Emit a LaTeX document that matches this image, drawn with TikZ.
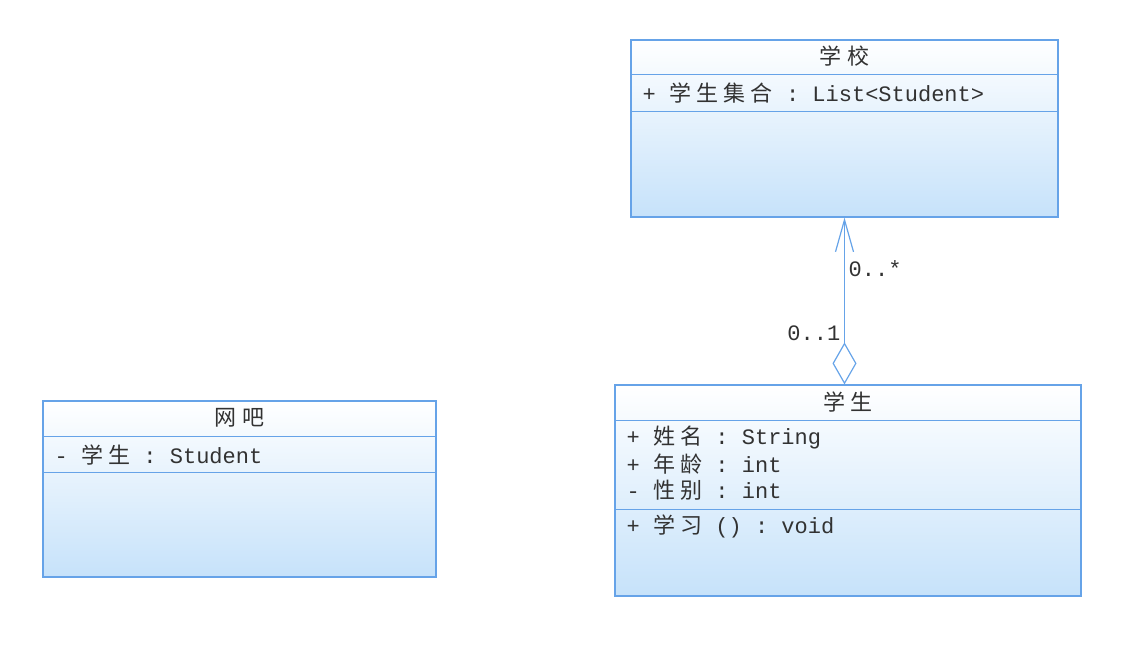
\documentclass[tikz,border=0pt]{standalone}
\usepackage{fontspec}
\setmonofont{Liberation Mono}
\newfontfamily\cjk{Noto Sans CJK SC}[LetterSpace=24]
\usetikzlibrary{arrows.meta}

\definecolor{umlline}{RGB}{102,163,232}
\definecolor{umlfill}{RGB}{198,226,250}
\definecolor{umltext}{RGB}{50,50,50}

\tikzset{
  umlclass/.style={draw=umlline, line width=1.2pt, top color=white, bottom color=umlfill, inner sep=0pt},
  umldiv/.style={draw=umlline, line width=1.2pt},
  classname/.style={inner sep=0pt, text=umltext},
  member/.style={anchor=west, inner sep=0pt, text=umltext},
  mult/.style={inner sep=0pt, text=umltext},
  aggr/.style={draw=umlline, line width=1.2pt, {Diamond[open,length=42pt,width=24pt]}-{Straight Barb[length=32pt,width=18pt]}}
}

\begin{document}
\begin{tikzpicture}[x=1pt,y=-1pt,font=\fontsize{22}{26}\selectfont\ttfamily]
\useasboundingbox (0,0) rectangle (1144,662);

% classes
\node[umlclass, minimum width=427pt, minimum height=177pt] (school) at (844.5,128.5) {};
\node[umlclass, minimum width=466pt, minimum height=211pt] (student) at (848,490.5) {};
\node[umlclass, minimum width=393pt, minimum height=176pt] (netbar) at (239.5,489) {};

% compartments
\draw[umldiv] ([yshift=-35pt]school.north west) -- ([yshift=-35pt]school.north east);
\draw[umldiv] ([yshift=-72pt]school.north west) -- ([yshift=-72pt]school.north east);
\draw[umldiv] ([yshift=-36pt]student.north west) -- ([yshift=-36pt]student.north east);
\draw[umldiv] ([yshift=-125pt]student.north west) -- ([yshift=-125pt]student.north east);
\draw[umldiv] ([yshift=-36pt]netbar.north west) -- ([yshift=-36pt]netbar.north east);
\draw[umldiv] ([yshift=-72pt]netbar.north west) -- ([yshift=-72pt]netbar.north east);

% names
\node[classname] (schoolname) at ([yshift=-17pt]school.north) {\cjk 学校};
\node[classname] (studentname) at ([yshift=-18pt]student.north) {\cjk 学生};
\node[classname] (netbarname) at ([yshift=-17pt]netbar.north) {\cjk 网吧};

% members
\node[member] (schoolstu) at ([xshift=12pt,yshift=-54pt]school.north west) {+ {\cjk 学生集合} : List<Student>};
\node[member] (stuname) at ([xshift=12pt,yshift=-53pt]student.north west) {+ {\cjk 姓名} : String};
\node[member] (stuage) at ([xshift=12pt,yshift=-80pt]student.north west) {+ {\cjk 年龄} : int};
\node[member] (stusex) at ([xshift=12pt,yshift=-106pt]student.north west) {- {\cjk 性别} : int};
\node[member] (stustudy) at ([xshift=12pt,yshift=-142pt]student.north west) {+ {\cjk 学习} () : void};
\node[member] (netbarstu) at ([xshift=12pt,yshift=-55pt]netbar.north west) {- {\cjk 学生} : Student};

% aggregation
\draw[aggr] (school.south |- student.north) -- (school.south);
\node[mult, anchor=west] (manyend) at ([xshift=4pt,yshift=-51pt]school.south) {0..*};
\node[mult, anchor=east] (oneend) at ([xshift=-4pt,yshift=-116pt]school.south) {0..1};
\end{tikzpicture}
\end{document}
